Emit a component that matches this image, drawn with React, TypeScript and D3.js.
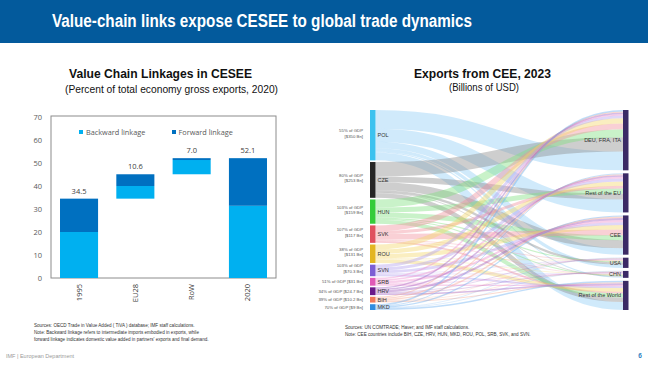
import * as d3 from 'd3';
import React from 'react';

// ---- Left chart: value chain linkages (waterfall) ----
const periods = ['1995', 'EU28', 'RoW', '2020'];
const baseValues = [0, 34.5, 45.1, 0];
const backwardValues = [20, 5.5, 6.2, 31.4];
const forwardValues = [14.5, 5.1, 0.8, 20.7];
const yTicks = [0, 10, 20, 30, 40, 50, 60, 70];

// ---- Right chart: exports sankey ----
const countries = ['POL', 'CZE', 'HUN', 'SVK', 'ROU', 'SVN', 'SRB', 'HRV', 'BIH', 'MKD'];
const countryGdp = ['55% of GDP', '80% of GDP', '103% of GDP', '107% of GDP', '38% of GDP', '103% of GDP', '51% of GDP', '34% of GDP', '39% of GDP', '70% of GDP'];
const countryExports = ['[$350 Bn]', '[$253 Bn]', '[$159 Bn]', '[$117 Bn]', '[$131 Bn]', '[$70.3 Bn]', '[$31 Bn]', '[$24.7 Bn]', '[$10.2 Bn]', '[$9 Bn]'];
const destinations = ['DEU, FRA, ITA', 'Rest of the EU', 'CEE', 'USA', 'CHN', 'Rest of the World'];
// rows: countries, columns: destinations
const flows = [
  [130, 90, 45, 22, 7, 55],
  [100, 40, 55, 16, 5, 32],
  [55, 35, 35, 8, 7, 28],
  [40, 20, 40, 5, 4, 12],
  [35, 30, 30, 4, 4, 25],
  [20, 20, 20, 3, 4, 13],
  [10, 12, 15, 3, 5, 9],
  [10, 10, 14, 4, 5, 11],
  [8, 8, 10, 3, 4, 7],
  [10, 6, 8, 3, 3, 10]
];
const nodeColors = ['#3cc2ef', '#262626', '#35cc3a', '#e0515f', '#e3b622', '#7c5fd4', '#e05ab6', '#6b1a8a', '#f07a5a', '#2f8de0'];
const linkColors = ['#8ecdf5', '#8a8a8a', '#7fe07f', '#f0909a', '#f2d66a', '#b3a0ee', '#ee90cf', '#a060c0', '#f5a88f', '#6aaef0'];

export default function App() {
  // bar chart scales
  const x = d3.scaleBand().domain(periods).range([51, 276]).paddingInner(0.324).paddingOuter(0.16);
  const y = d3.scaleLinear().domain([0, 70]).range([278, 117]);

  // sankey layout (manual)
  const top = 110, bottom = 310;
  const xL = 370, xR = 623, nodeW = 5.5;
  const srcTotals = flows.map((r) => d3.sum(r));
  const dstTotals = destinations.map((_, j) => d3.sum(flows, (r) => r[j]));
  const total = d3.sum(srcTotals);
  const gapR = 3;
  const k = (bottom - top - gapR * (destinations.length - 1)) / total;
  const gapL = (bottom - top - total * k) / (countries.length - 1);

  const srcY: number[] = [];
  let acc = top;
  srcTotals.forEach((v) => { srcY.push(acc); acc += v * k + gapL; });
  const dstY: number[] = [];
  acc = top;
  dstTotals.forEach((v) => { dstY.push(acc); acc += v * k + gapR; });

  // offsets: source links ordered by destination, target links ordered by source reversed
  const links: { i: number; j: number; y0: number; y1: number; w: number }[] = [];
  const srcOff = srcY.slice();
  const dstOff = dstY.slice();
  const y1Map: number[][] = countries.map(() => destinations.map(() => 0));
  for (let j = 0; j < destinations.length; j++) {
    for (let i = countries.length - 1; i >= 0; i--) {
      const w = flows[i][j] * k;
      y1Map[i][j] = dstOff[j] + w / 2;
      dstOff[j] += w;
    }
  }
  countries.forEach((_, i) => {
    destinations.forEach((_, j) => {
      const w = flows[i][j] * k;
      links.push({ i, j, y0: srcOff[i] + w / 2, y1: y1Map[i][j], w });
      srcOff[i] += w;
    });
  });
  const linkGen = d3.linkHorizontal();

  const barFont = "'Open Sans', 'DejaVu Sans', sans-serif";
  const arial = "'Liberation Sans', Arial, sans-serif";

  return (
    <svg width={648} height={365} style={{ position: 'absolute', left: 0, top: 0, background: '#fff' }}>
      {/* header */}
      <rect x={0} y={0} width={648} height={43} fill="#035a9c" />
      <text x={262} y={27} textAnchor="middle" fill="#fff" fontFamily={arial} fontWeight="bold" fontSize={17.5} textLength={420} lengthAdjust="spacingAndGlyphs">Value-chain links expose CESEE to global trade dynamics</text>

      {/* left titles */}
      <text x={160.5} y={78} textAnchor="middle" fontFamily={arial} fontWeight="bold" fontSize={12} fill="#111" textLength={183} lengthAdjust="spacingAndGlyphs">Value Chain Linkages in CESEE</text>
      <text x={171.5} y={93} textAnchor="middle" fontFamily={arial} fontSize={10.5} fill="#111" textLength={213} lengthAdjust="spacingAndGlyphs">(Percent of total economy gross exports, 2020)</text>

      {/* bar chart */}
      <rect x={51} y={116} width={225} height={162} fill="none" stroke="#8c8c8c" strokeWidth={1} />
      {yTicks.map((t) => (
        <text key={t} x={42} y={y(t) + 2.5} textAnchor="end" fontFamily={barFont} fontSize={7.5} fill="#595959">{t}</text>
      ))}
      {periods.map((p, i) => {
        const bx = x(p)!;
        const bw = x.bandwidth();
        const b0 = baseValues[i];
        const b1 = b0 + backwardValues[i];
        const f1 = b1 + forwardValues[i];
        return (
          <g key={p}>
            <rect x={bx} y={y(b1)} width={bw} height={y(b0) - y(b1)} fill="#00b0f0" />
            <rect x={bx} y={y(f1)} width={bw} height={y(b1) - y(f1)} fill="#0070c0" />
            <text x={bx + bw / 2} y={y(f1) - 5} textAnchor="middle" fontFamily={barFont} fontSize={7.5} fill="#404040">{(backwardValues[i] + forwardValues[i]).toFixed(1)}</text>
            <text transform={`translate(${bx + bw / 2 + 2.5},284) rotate(-90)`} textAnchor="end" fontFamily={barFont} fontSize={7.5} fill="#404040">{p}</text>
          </g>
        );
      })}
      {/* legend */}
      <rect x={79} y={130} width={4} height={4} fill="#00b0f0" />
      <text x={86} y={134.5} fontFamily={barFont} fontSize={7.3} fill="#595959">Backward linkage</text>
      <rect x={172} y={130} width={4} height={4} fill="#0070c0" />
      <text x={178.5} y={134.5} fontFamily={barFont} fontSize={7.3} fill="#595959">Forward linkage</text>

      {/* left notes */}
      <g fontFamily={arial} fontSize={4.6} fill="#333">
        <text x={34} y={327}>Sources: OECD Trade in Value Added ( TiVA ) database; IMF staff calculations.</text>
        <text x={34} y={334}>Note: Backward linkage refers to intermediate imports embodied in exports, while</text>
        <text x={34} y={341}>forward linkage indicates domestic value added in partners' exports and final demand.</text>
      </g>

      {/* right titles */}
      <text x={482.5} y={78} textAnchor="middle" fontFamily={arial} fontWeight="bold" fontSize={12} fill="#111" textLength={137} lengthAdjust="spacingAndGlyphs">Exports from CEE, 2023</text>
      <text x={484} y={91} textAnchor="middle" fontFamily={arial} fontSize={10.5} fill="#111" textLength={70} lengthAdjust="spacingAndGlyphs">(Billions of USD)</text>

      {/* sankey links */}
      <g fill="none">
        {links.map((l) => (
          <path key={`${l.i}-${l.j}`} d={linkGen({ source: [xL + nodeW, l.y0], target: [xR, l.y1] } as any) || ''}
            stroke={linkColors[l.i]} strokeOpacity={0.42} strokeWidth={Math.max(l.w, 0.5)} />
        ))}
      </g>
      {/* sankey source nodes */}
      {countries.map((c, i) => {
        const h = srcTotals[i] * k;
        const cy = srcY[i] + h / 2;
        const twoLines = i < 6;
        return (
          <g key={c}>
            <rect x={xL} y={srcY[i]} width={nodeW} height={h} fill={nodeColors[i]} />
            <text x={xL + nodeW + 2} y={cy + 2} fontFamily={arial} fontSize={5.5} fill="#333">{c}</text>
            {twoLines ? (
              <g fontFamily={arial} fontSize={4.3} fill="#555" textAnchor="end">
                <text x={363} y={cy - 3}>{countryGdp[i]}</text>
                <text x={363} y={cy + 2.5}>{countryExports[i]}</text>
              </g>
            ) : (
              <text x={363} y={cy + 1.6} fontFamily={arial} fontSize={4.3} fill="#555" textAnchor="end">{`${countryGdp[i]} ${countryExports[i]}`}</text>
            )}
          </g>
        );
      })}
      {/* sankey destination nodes */}
      {destinations.map((d, j) => {
        const h = dstTotals[j] * k;
        return (
          <g key={d}>
            <rect x={xR} y={dstY[j]} width={nodeW} height={h} fill="#3b2a66" />
            <text x={xR - 2} y={dstY[j] + h / 2 + 2} textAnchor="end" fontFamily={arial} fontSize={5.5} fill="#333">{d}</text>
          </g>
        );
      })}

      {/* right notes */}
      <g fontFamily={arial} fontSize={4.6} fill="#333">
        <text x={345} y={329}>Sources: UN COMTRADE; Haver; and IMF staff calculations.</text>
        <text x={345} y={336}>Note: CEE countries include BIH, CZE, HRV, HUN, MKD, ROU, POL, SRB, SVK, and SVN.</text>
      </g>

      {/* footer */}
      <text x={6} y={358} fontFamily={arial} fontSize={5.5} fill="#9a9a9a">IMF | European Department</text>
      <text x={640} y={358} textAnchor="middle" fontFamily={arial} fontSize={6.5} fontWeight="bold" fill="#2f7fc1">6</text>
    </svg>
  );
}
